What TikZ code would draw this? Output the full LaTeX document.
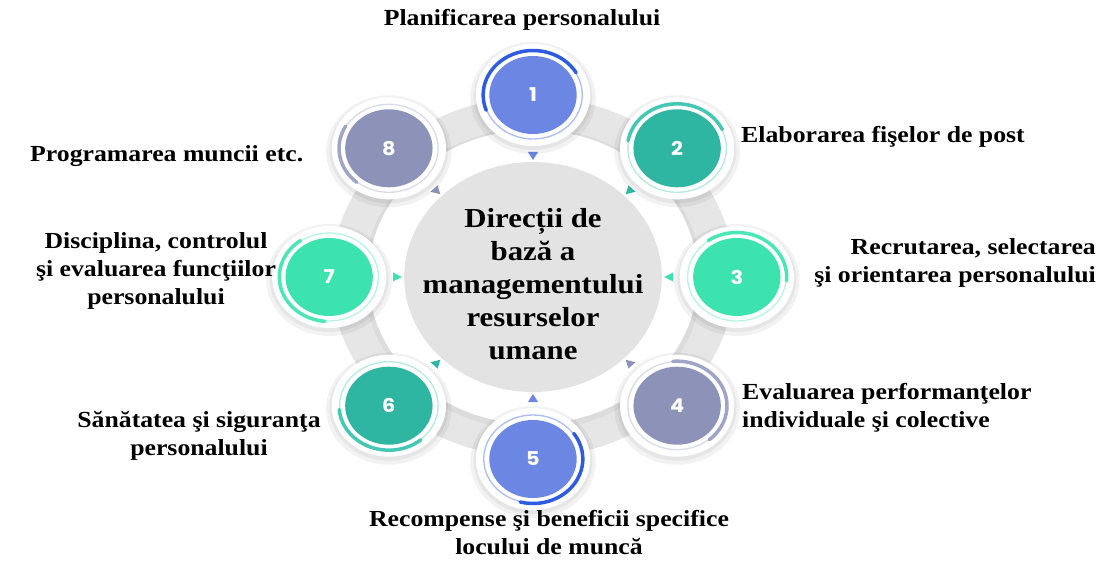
\documentclass[tikz,border=0pt]{standalone}
\usepackage{fontspec}
\setmainfont{Liberation Serif}[FakeStretch=1.12]
\newfontfamily\numfont{Poppins}[FakeStretch=1.1]
\usepackage{tikz}

\definecolor{blueDisk}{HTML}{6B86E3}
\definecolor{blueArc}{HTML}{2F5BE2}
\definecolor{tealDisk}{HTML}{2EB6A3}
\definecolor{tealArc}{HTML}{45C8B3}
\definecolor{mintDisk}{HTML}{3DE3AF}
\definecolor{mintArc}{HTML}{4BE6B6}
\definecolor{lavDisk}{HTML}{8D92B9}
\definecolor{lavArc}{HTML}{A0A5C8}
\definecolor{bandGrey}{HTML}{E6E6E6}
\definecolor{hubGrey}{HTML}{E3E3E3}

\tikzset{
	lbl/.style = {font = \bfseries\fontsize{23}{28}\selectfont, inner sep = 0pt},
	hubtext/.style = {font = \bfseries\fontsize{27.5}{33}\selectfont, align = center, inner sep = 0pt},
	num/.style = {font = \numfont\bfseries\fontsize{19}{19}\selectfont, text = white, inner sep = 0pt}
}

\begin{document}
\begin{tikzpicture}[x = 1pt, y = 1pt]
	\useasboundingbox (0,0) rectangle (1100,560);

	% ring, hub and the eight steps
	\begin{scope}[shift = {(533,283)}, xscale = 1.12]
		\fill[bandGrey] (0,0) circle (180);
		\fill[black, opacity = 0.04] (0,-2) circle (151);
		\fill[white] (0,0) circle (147);
		\fill[hubGrey] (0,0) circle (115);

		\foreach \n/\a/\cd/\ca/\sa/\ea in {1/90/blueDisk/blueArc/30/200, 2/45/tealDisk/tealArc/25/170,
				3/0/mintDisk/mintArc/-5/125, 4/-45/lavDisk/lavArc/-50/95, 5/-90/blueDisk/blueArc/-105/35,
				6/-135/tealDisk/tealArc/185/310, 7/180/mintDisk/mintArc/125/265, 8/135/lavDisk/lavArc/150/230}
		{
			% pointer towards the hub
			\fill[\cd, rotate = \a] (117,0) -- (125,4.5) -- (125,-4.5) -- cycle;

			\begin{scope}[shift = {(\a:182)}]
				\fill[black, opacity = 0.05] (0,-3) circle (56);
				\fill[black, opacity = 0.05] (0,-2) circle (53);
				\fill[white] (0,0) circle (51);
				\draw[\ca!40, line width = 1.3] (0,0) circle (44);
				\draw[\ca, line width = 3.5, line cap = round] (\sa:44.5) arc [start angle = \sa, end angle = \ea, radius = 44.5];
				\fill[\cd] (0,0) circle (39);
			\end{scope}
			\node[num] (c\n) at (\a:182) {\n};
		}
	\end{scope}

	\node[hubtext] (hub) at (533,276) {Direcții de\\bază a\\managementului\\resurselor\\umane};

	\node[lbl] (t1) at (522,540) {Planificarea personalului};
	\node[lbl, anchor = west] (t2) at (741,423) {Elaborarea fişelor de post};
	\node[lbl, align = right, anchor = east] (t3) at (1096,297) {Recrutarea, selectarea\\şi orientarea personalului};
	\node[lbl, align = left, anchor = west] (t4) at (742,152) {Evaluarea performanţelor\\individuale şi colective};
	\node[lbl, align = center] (t5) at (549,27) {Recompense şi beneficii specifice\\locului de muncă};
	\node[lbl, align = center] (t6) at (199,124) {Sănătatea şi siguranţa\\personalului};
	\node[lbl, align = center] (t7) at (156,289) {Disciplina, controlul\\şi evaluarea funcţiilor\\personalului};
	\node[lbl, anchor = west] (t8) at (30,404) {Programarea muncii etc.};
\end{tikzpicture}
\end{document}
